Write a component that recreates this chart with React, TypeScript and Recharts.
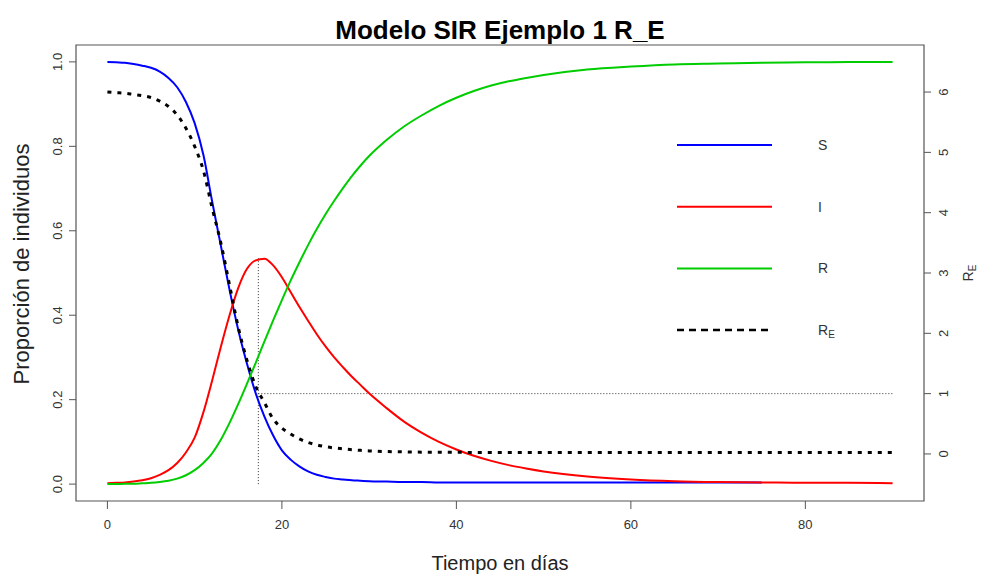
import React from 'react';
import { LineChart, Line, XAxis, YAxis, ReferenceLine, ReferenceArea } from 'recharts';

const days = [
  0, 1, 2, 3, 4, 5, 6, 7, 8, 9, 10, 11, 12, 13, 14, 15, 16, 17, 18, 19, 20,
  21, 22, 23, 24, 25, 26, 27, 28, 29, 30, 32, 34, 36, 38, 40, 42, 44, 46, 48, 50,
  55, 60, 65, 70, 75, 80, 85, 90,
];

const susceptibles: (number | null)[] = [
  1.0, 0.999, 0.998, 0.995, 0.991, 0.986, 0.977, 0.962, 0.94, 0.905, 0.855,
  0.78, 0.67, 0.565, 0.46, 0.365, 0.285, 0.215, 0.16, 0.115, 0.08,
  0.058, 0.042, 0.03, 0.022, 0.017, 0.013, 0.011, 0.009, 0.008, 0.007,
  0.006, 0.005, 0.005, 0.004, 0.004, 0.004, 0.004, 0.004, 0.004, 0.004,
  0.004, 0.004, 0.004, 0.004, 0.004, null, null, null,
];

const infectados = [
  0.002, 0.003, 0.004, 0.006, 0.009, 0.014, 0.022, 0.033, 0.05, 0.075, 0.11,
  0.17, 0.245, 0.325, 0.4, 0.465, 0.51, 0.53, 0.534, 0.518, 0.49,
  0.455, 0.42, 0.387, 0.355, 0.326, 0.3, 0.277, 0.255, 0.235, 0.215,
  0.18, 0.148, 0.122, 0.1, 0.082, 0.067, 0.055, 0.045, 0.037, 0.03,
  0.018, 0.011, 0.007, 0.005, 0.004, 0.003, 0.003, 0.002,
];

const recuperados = [
  0.0, 0.0, 0.001, 0.001, 0.002, 0.003, 0.005, 0.008, 0.013, 0.021, 0.033,
  0.05, 0.073, 0.105, 0.145, 0.19, 0.238, 0.287, 0.338, 0.388, 0.436,
  0.482, 0.525, 0.566, 0.604, 0.639, 0.671, 0.701, 0.729, 0.754, 0.777,
  0.815, 0.847, 0.873, 0.896, 0.915, 0.931, 0.944, 0.954, 0.962, 0.969,
  0.982, 0.989, 0.994, 0.996, 0.998, 0.999, 1.0, 1.0,
];

const reEfectivo = [
  6.0, 5.99, 5.98, 5.96, 5.94, 5.91, 5.85, 5.76, 5.62, 5.4, 5.1,
  4.7, 4.08, 3.5, 2.8, 2.1, 1.55, 1.12, 0.85, 0.58, 0.43,
  0.33, 0.25, 0.19, 0.15, 0.12, 0.1, 0.085, 0.07, 0.06, 0.05,
  0.04, 0.035, 0.03, 0.03, 0.028, 0.025, 0.025, 0.025, 0.025, 0.025,
  0.025, 0.025, 0.025, 0.025, 0.025, 0.025, 0.025, 0.025,
];

const xTicks = [0, 20, 40, 60, 80];
const leftTicks = [0, 0.2, 0.4, 0.6, 0.8, 1.0];
const rightTicks = [0, 1, 2, 3, 4, 5, 6];

const PEAK_DAY = 17.3;
const PEAK_I = 0.535;
const RE_UMBRAL = 1;
const LAST_DAY = 90;

const legendItems = [
  { label: 'S', color: '#0000FF', dashed: false },
  { label: 'I', color: '#FF0000', dashed: false },
  { label: 'R', color: '#00CD00', dashed: false },
  { label: 'RE', color: '#000000', dashed: true },
];

const data = days.map((d, i) => ({
  day: d,
  S: susceptibles[i],
  I: infectados[i],
  R: recuperados[i],
  RE: reEfectivo[i],
}));

const FONT = '"Liberation Sans", Arial, sans-serif';
const AXIS_COLOR = '#555';

const LeftTick = (props: any) => {
  const { x, y, payload } = props;
  const bx = x - 5;
  return (
    <text
      x={bx}
      y={y}
      transform={`rotate(-90 ${bx} ${y})`}
      textAnchor="middle"
      fontSize={13}
      fontFamily={FONT}
      fill="#333"
    >
      {Number(payload.value).toFixed(1)}
    </text>
  );
};

const RightTick = (props: any) => {
  const { x, y, payload } = props;
  const bx = x + 15;
  return (
    <text
      x={bx}
      y={y}
      transform={`rotate(-90 ${bx} ${y})`}
      textAnchor="middle"
      fontSize={13}
      fontFamily={FONT}
      fill="#333"
    >
      {payload.value}
    </text>
  );
};

export default function App() {
  return (
    <div style={{ position: 'absolute', left: 0, top: 0, width: 983, height: 575, background: '#fff' }}>
      <LineChart
        width={983}
        height={575}
        data={data}
        margin={{ top: 45, right: 19, bottom: 34, left: 36 }}
      >
        <XAxis
          dataKey="day"
          type="number"
          domain={[-3.6, 93.6]}
          ticks={xTicks}
          height={40}
          axisLine={false}
          tickLine={{ stroke: AXIS_COLOR }}
          tickSize={8}
          tickMargin={11}
          tick={{ fontSize: 13, fontFamily: FONT, fill: '#333' }}
          allowDataOverflow
        />
        <YAxis
          yAxisId="left"
          domain={[-0.04, 1.04]}
          ticks={leftTicks}
          width={40}
          axisLine={false}
          tickLine={{ stroke: AXIS_COLOR }}
          tickSize={7}
          tick={<LeftTick />}
          allowDataOverflow
        />
        <YAxis
          yAxisId="right"
          orientation="right"
          domain={[-0.78, 6.78]}
          ticks={rightTicks}
          width={40}
          axisLine={false}
          tickLine={{ stroke: AXIS_COLOR }}
          tickSize={7}
          tick={<RightTick />}
          allowDataOverflow
        />
        <ReferenceArea
          yAxisId="left"
          x1={-3.6}
          x2={93.6}
          y1={-0.04}
          y2={1.04}
          fill="none"
          stroke={AXIS_COLOR}
          strokeWidth={1.2}
          ifOverflow="visible"
        />
        <ReferenceLine
          yAxisId="left"
          segment={[{ x: PEAK_DAY, y: 0 }, { x: PEAK_DAY, y: PEAK_I }]}
          stroke="#333"
          strokeDasharray="1 2"
        />
        <ReferenceLine
          yAxisId="right"
          segment={[{ x: PEAK_DAY, y: RE_UMBRAL }, { x: LAST_DAY, y: RE_UMBRAL }]}
          stroke="#333"
          strokeDasharray="1 2"
        />
        <Line yAxisId="left" dataKey="S" stroke="#0000FF" strokeWidth={2} dot={false} type="monotone" isAnimationActive={false} connectNulls={false} />
        <Line yAxisId="left" dataKey="I" stroke="#FF0000" strokeWidth={2} dot={false} type="monotone" isAnimationActive={false} />
        <Line yAxisId="left" dataKey="R" stroke="#00CD00" strokeWidth={2} dot={false} type="monotone" isAnimationActive={false} />
        <Line yAxisId="right" dataKey="RE" stroke="#000" strokeWidth={3} strokeDasharray="4 6" dot={false} type="monotone" isAnimationActive={false} />
      </LineChart>
      <svg
        width={983}
        height={575}
        style={{ position: 'absolute', left: 0, top: 0, pointerEvents: 'none' }}
      >
        <text x={500} y={39} textAnchor="middle" fontSize={26} fontWeight="bold" fontFamily={FONT} fill="#000">
          Modelo SIR Ejemplo 1 R_E
        </text>
        <text x={500} y={570} textAnchor="middle" fontSize={20} fontFamily={FONT} fill="#222">
          Tiempo en días
        </text>
        <text
          x={29}
          y={264}
          transform="rotate(-90 29 264)"
          textAnchor="middle"
          fontSize={22}
          fontFamily={FONT}
          fill="#222"
        >
          Proporción de individuos
        </text>
        <text
          x={973}
          y={273}
          transform="rotate(-90 973 273)"
          textAnchor="middle"
          fontSize={14}
          fontFamily={FONT}
          fill="#333"
        >
          R<tspan fontSize={10} dy={3}>E</tspan>
        </text>
        {legendItems.map((it, i) => {
          const y = 145 + i * 61.7;
          return (
            <g key={it.label}>
              <line
                x1={677}
                x2={772}
                y1={y}
                y2={y}
                stroke={it.color}
                strokeWidth={it.dashed ? 2.5 : 2}
                strokeDasharray={it.dashed ? '7 5' : undefined}
              />
              <text x={818} y={y + 5} fontSize={14} fontFamily={FONT} fill="#333">
                {it.dashed ? (
                  <>
                    R<tspan fontSize={10} dy={3}>E</tspan>
                  </>
                ) : (
                  it.label
                )}
              </text>
            </g>
          );
        })}
      </svg>
    </div>
  );
}
